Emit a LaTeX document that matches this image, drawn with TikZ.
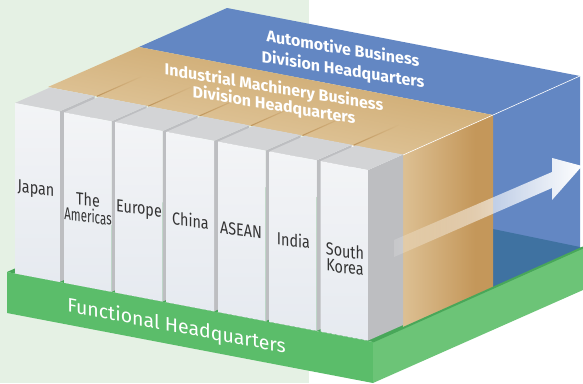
\documentclass[tikz,border=0pt]{standalone}
\usepackage{fontspec}
\usepackage{graphicx}
\setmainfont{Fira Sans}
\usetikzlibrary{fadings}
\definecolor{bggreen}{HTML}{E5F1E4}
\definecolor{bluebox}{HTML}{6387C3}
\definecolor{bluedark}{HTML}{3F72A1}
\definecolor{orTopDark}{HTML}{C9A265}
\definecolor{orTopLight}{HTML}{E6CFA8}
\definecolor{orSideLight}{HTML}{E3CAA1}
\definecolor{orSideDark}{HTML}{C4975A}
\definecolor{orLine}{HTML}{B98C50}
\definecolor{greenfront}{HTML}{5BBD6A}
\definecolor{greenside}{HTML}{6CC477}
\definecolor{greentop}{HTML}{48A759}
\definecolor{pilFrontTop}{HTML}{F3F4F6}
\definecolor{pilFrontBot}{HTML}{E6EAF0}
\definecolor{pilTop}{HTML}{D3D4D6}
\definecolor{pilSide}{HTML}{BDBEC1}
\definecolor{labgray}{HTML}{333333}
\tikzfading[name=arrowfade, left color=transparent!85, middle color=transparent!30, right color=transparent!0]
\tikzfading[name=linefade, left color=transparent!0, right color=transparent!100]
\begin{document}
\begin{tikzpicture}[x=1pt,y=-1pt,
  hdr/.style={text=white, align=center, inner sep=0pt},
  lab/.style={text=labgray, align=center, inner sep=0pt, xscale=0.82, yslant=-0.11,
    font=\fontsize{17.5}{16}\selectfont},
  pilside/.style={fill=pilSide},
  piltop/.style={fill=pilTop},
  pilfront/.style={top color=pilFrontTop, bottom color=pilFrontBot}]
\useasboundingbox (0,0) rectangle (583,383);
\fill[white] (0,0) rectangle (583,383);
\fill[bggreen] (0,0) rectangle (308.5,383);
% green base
\fill[greentop] (7,272) -- (373,342) -- (583,248) -- (217,178) -- cycle;
\fill[greenfront] (7,272) -- (373,342) -- (373,383) -- (7,313) -- cycle;
\fill[greenside] (373,342) -- (583,248) -- (583,290) -- (373,383) -- cycle;
% blue box
\fill[bluebox] (139,47) -- (227,8) -- (580,76) -- (493,115) -- cycle;
\fill[bluebox] (493,115) -- (580,76) -- (580,249.3) -- (493,288.3) -- cycle;
\fill[bluedark] (493,229) -- (580,247) -- (580,249.3) -- (493,288.3) -- cycle;
% orange box
\shade[top color=orTopDark, bottom color=orTopLight, shading angle=-11]
  (48,87) -- (139,47) -- (493,115) -- (403,155) -- cycle;
\begin{scope}
  \clip (403,155) -- (493,115) -- (493,288.3) -- (403,328.6) -- cycle;
  \fill[orSideDark] (400,100) rectangle (500,340);
  \shade[left color=orSideLight, right color=orSideDark] (385,100) rectangle (475,340);
\end{scope}
\draw[white, line width=0.6pt] (403,155) -- (493,115) -- (580,76);
% divider lines on orange top
\foreach \g in {61.75,113.25,164.5,216,267.5,318.6}{
  \pgfmathsetmacro\tg{103+0.19*(\g-15)}
  \draw[orLine, line width=1.1pt, opacity=0.8, path fading=linefade] (\g+35,\tg-15.5) -- (\g+80,\tg-35.5);
}
% pillars
\foreach \l/\r in {15/59.5,64/111.5,115/162.5,166.5/214,218/265.5,269.5/316.7,320.5/368}{
  \pgfmathsetmacro\tl{103+0.19*(\l-15)}
  \pgfmathsetmacro\tr{103+0.19*(\r-15)}
  \pgfmathsetmacro\bl{273.5+0.19*(\l-15)}
  \pgfmathsetmacro\br{273.5+0.19*(\r-15)}
  \fill[pilside] (\r,\tr) -- (\r+35,\tr-15.5) -- (\r+35,\br-15.5) -- (\r,\br) -- cycle;
  \fill[piltop] (\l,\tl) -- (\r,\tr) -- (\r+35,\tr-15.5) -- (\l+35,\tl-15.5) -- cycle;
  \shade[pilfront] (\l,\tl) -- (\r,\tr) -- (\r,\br) -- (\l,\bl) -- cycle;
}
% green top edge strip
\draw[greentop, line width=2pt] (373,341.5) -- (583,247.5);
% arrow
\fill[white, path fading=arrowfade]
  (394,240) -- (552,172) -- (552,158) -- (582,166) -- (552,200) -- (552,188) -- (394,257) -- cycle;
% texts
\node[hdr, yslant=-0.16, font=\fontsize{16}{21}\selectfont\bfseries] (auto) at (343,60)
  {Automotive Business\\Division Headquarters};
\node[hdr, yslant=-0.165, font=\fontsize{16}{17.5}\selectfont\bfseries] (indus) at (274,97)
  {Industrial Machinery Business\\Division Headquarters};
\node[hdr, yslant=-0.19, font=\fontsize{19.5}{20}\selectfont] (func) at (176.5,327)
  {Functional Headquarters};
\node[lab] (japan) at (36,190) {Japan};
\node[lab] (americas) at (88,208) {The\\\scalebox{0.8}[1]{Americas}};
\node[lab] (europe) at (139,210) {Europe};
\node[lab] (china) at (190.5,220) {China};
\node[lab] (asean) at (241,230) {ASEAN};
\node[lab] (india) at (293.5,240) {India};
\node[lab] (korea) at (345,259) {South\\Korea};
\end{tikzpicture}
\end{document}
